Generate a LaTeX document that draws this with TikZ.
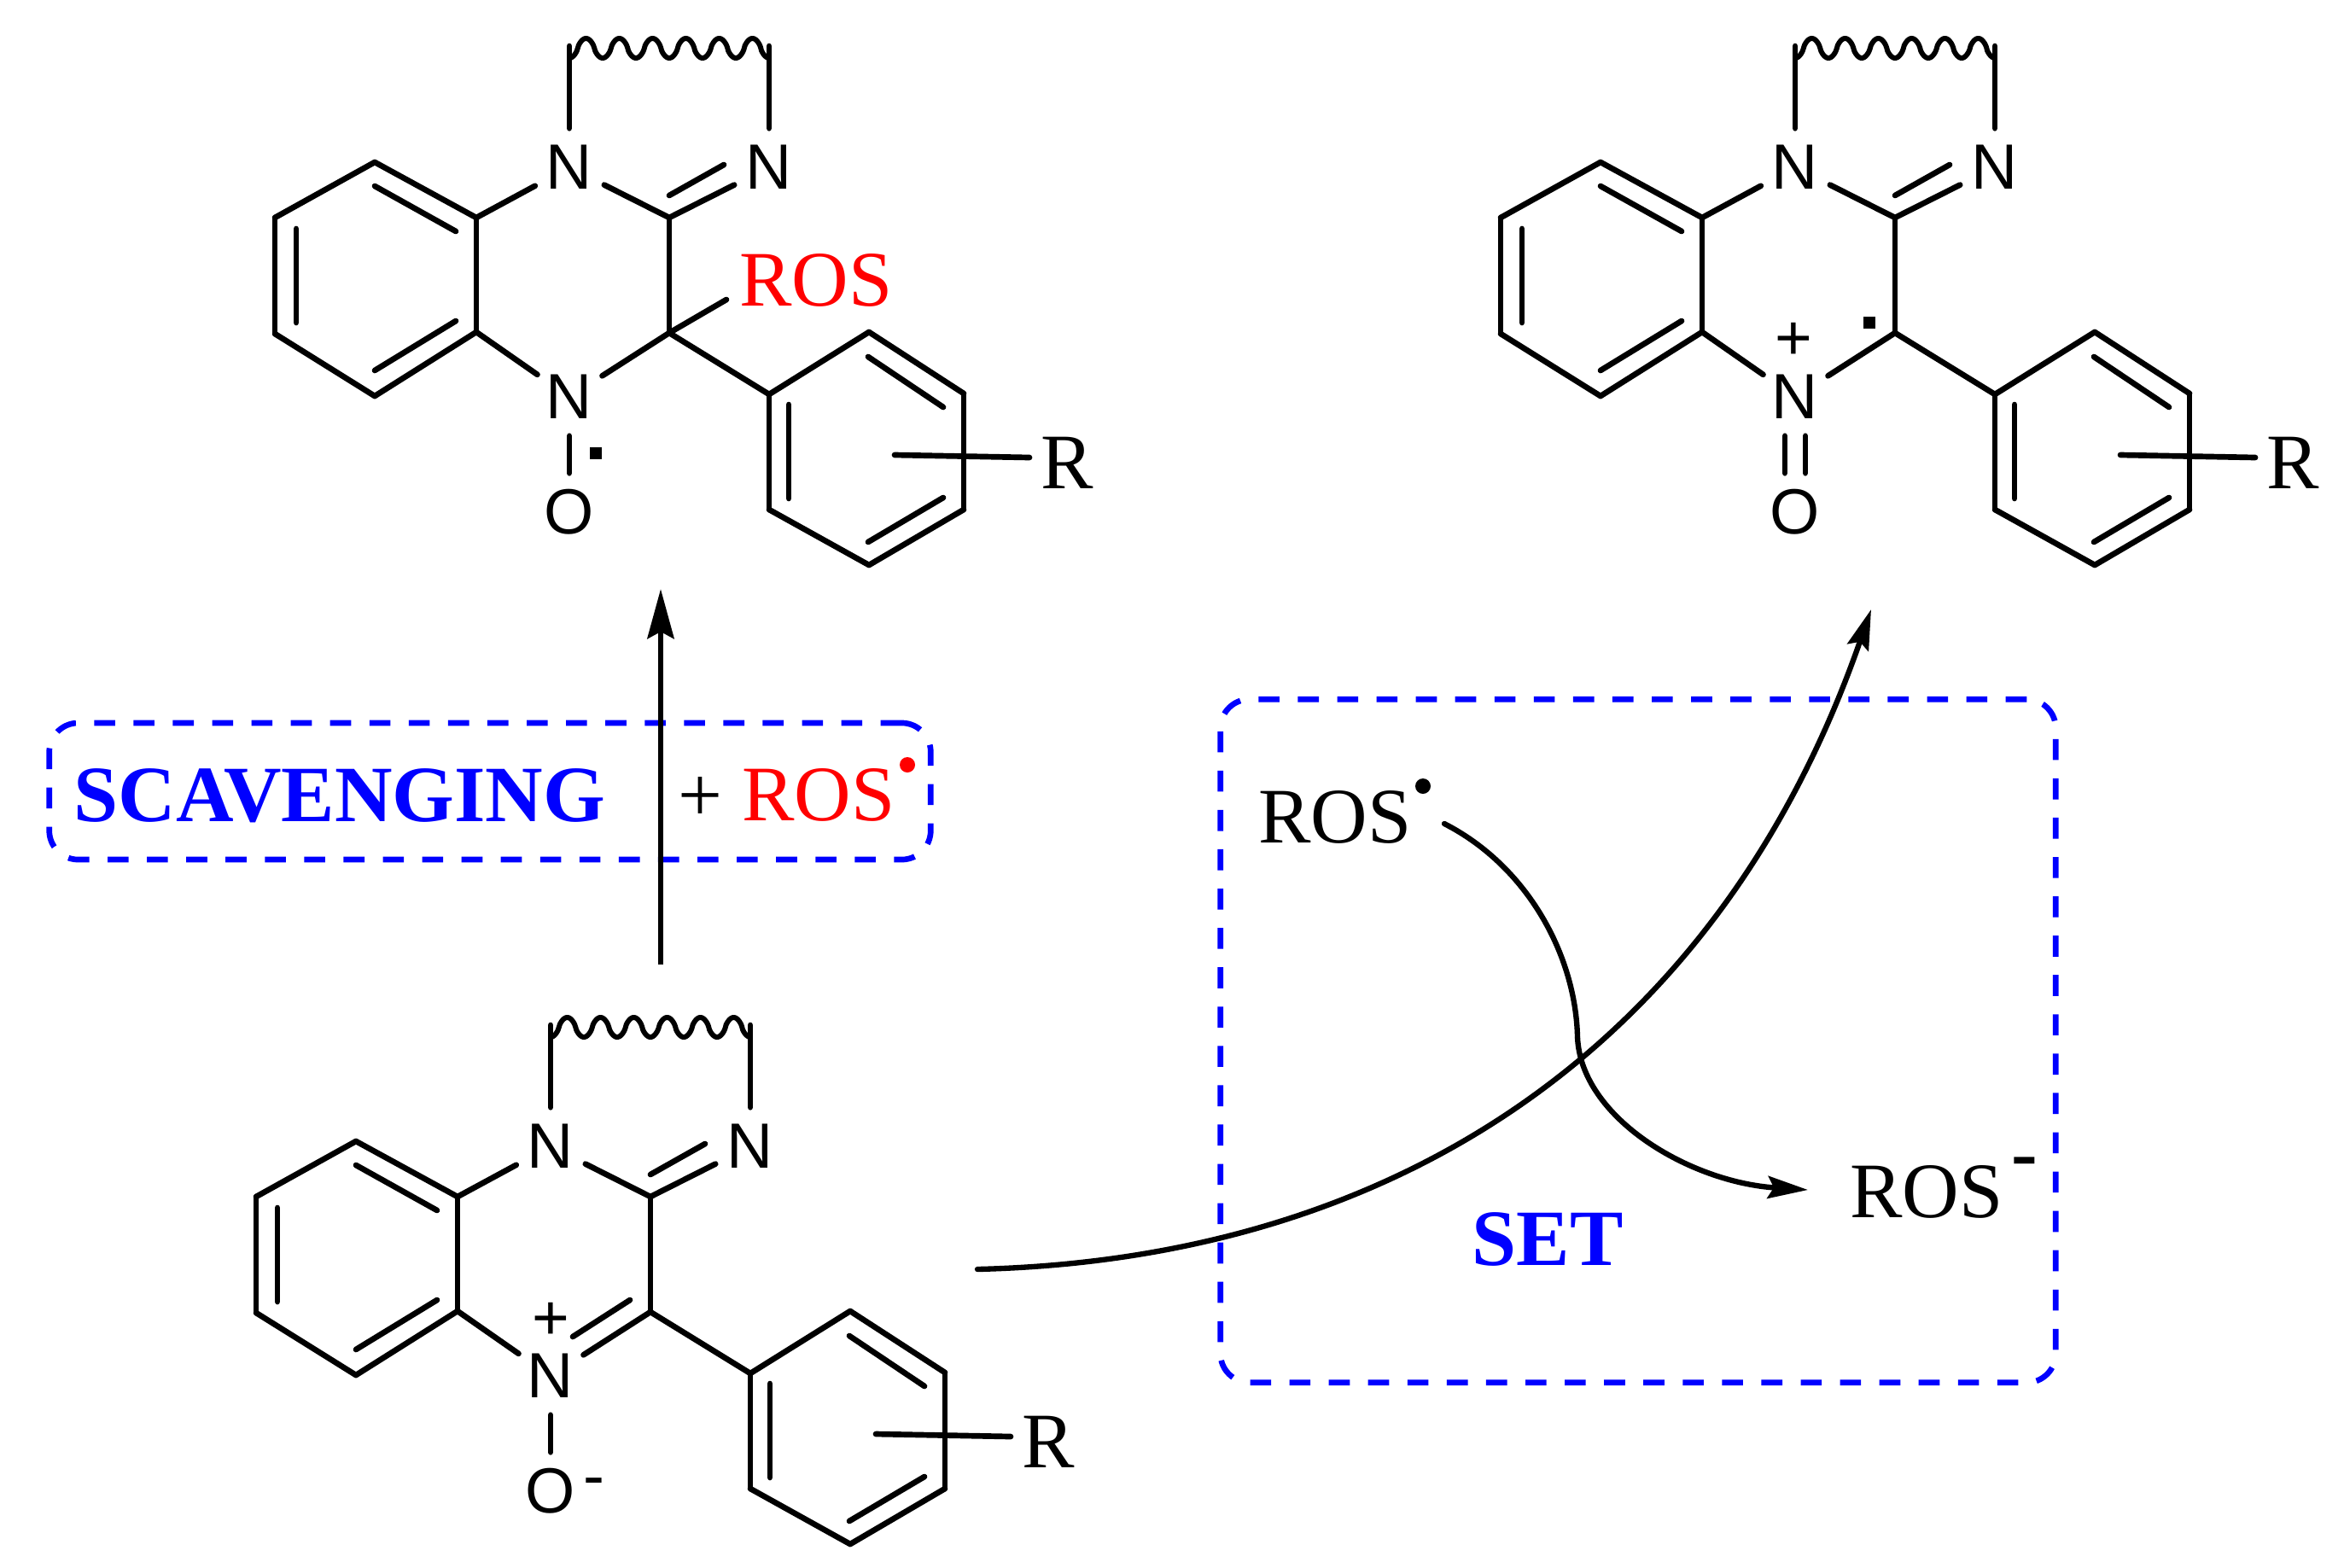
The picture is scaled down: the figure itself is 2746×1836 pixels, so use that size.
\documentclass[tikz,border=0pt]{standalone}
\usepackage{fontspec}
\usepackage{xcolor}
\usepackage{tikz}
\usetikzlibrary{arrows.meta}
\setmainfont{Liberation Serif}
\newfontfamily\atomfont{Liberation Sans}

\tikzset{
	bond/.style={line width=1.9pt,line cap=round},
	curved/.style={line width=1.8pt,line cap=round,-{Stealth[length=.47cm,width=.26cm,inset=.07cm]}},
	atom/.style={circle,inner sep=0pt,minimum size=.9cm,font=\atomfont\fontsize{21.3}{24}\selectfont},
	sign/.style={inner sep=0pt,font=\atomfont\fontsize{21.3}{24}\selectfont},
	group/.style={circle,inner sep=0pt,minimum size=.9cm,font=\fontsize{26.2}{30}\selectfont},
	word/.style={inner sep=0pt,font=\fontsize{26.2}{30}\selectfont},
	title/.style={inner sep=0pt,text=blue,font=\bfseries\fontsize{26.6}{30}\selectfont},
	radical/.style={fill,inner sep=0pt,minimum size=.14cm},
	spot/.style={circle,fill,inner sep=0pt,minimum size=.18cm},
	dashbox/.style={draw=blue,line width=1.9pt,rounded corners=.34cm,dash pattern=on 7pt off 6.1pt,inner sep=0pt},
}

% shared skeleton: both rings, the bridge, and the atoms with one fixed geometry
\newcommand{\skeleton}{
	\coordinate (ra) at ( 439, 190);
	\coordinate (rb) at ( 322, 255);
	\coordinate (rc) at ( 322, 391);
	\coordinate (rd) at ( 439, 464);
	\coordinate (re) at ( 558, 389);
	\coordinate (rf) at ( 558, 255);
	\coordinate (ca) at ( 784, 255);
	\coordinate (cb) at ( 784, 390);
	\coordinate (pa) at ( 901, 462);
	\coordinate (pb) at (1018, 389);
	\coordinate (pc) at (1129, 461);
	\coordinate (pd) at (1129, 597);
	\coordinate (pe) at (1018, 662);
	\coordinate (pf) at ( 901, 597);

	\node[atom] (na) at ( 667, 196) {N};
	\node[atom] (nb) at ( 901, 196) {N};
	\node[atom] (nc) at ( 667, 465) {N};
	\node[atom] (oa) at ( 667, 600) {O};
	\node[group] (rg) at (1250, 542) {R};

	\coordinate (ta) at ( 667,  54);
	\coordinate (tb) at ( 901,  54);
	\coordinate (sa) at (1048, 533);
	\coordinate (sb) at (1206, 536);

	\coordinate (ia) at ( 439, 218);
	\coordinate (ib) at ( 534, 271);
	\coordinate (ic) at ( 347, 268);
	\coordinate (id) at ( 347, 378);
	\coordinate (ie) at ( 439, 434);
	\coordinate (if) at ( 534, 376);
	\coordinate (ig) at ( 784, 229);
	\coordinate (ih) at ( 848, 193);
	\coordinate (ii) at (1017, 418);
	\coordinate (ij) at (1105, 477);
	\coordinate (ik) at ( 924, 474);
	\coordinate (il) at ( 924, 584);
	\coordinate (im) at (1105, 583);
	\coordinate (in) at (1017, 635);

	\foreach \s/\t in {ra/rb,rb/rc,rc/rd,rd/re,re/rf,rf/ra,rf/na,na/ca,ca/nb,ca/cb,re/nc,cb/nc,cb/pa,
		pa/pb,pb/pc,pc/pd,pd/pe,pe/pf,pf/pa,na/ta,nb/tb,sa/sb,
		ia/ib,ic/id,ie/if,ig/ih,ii/ij,ik/il,im/in}
		\draw[bond] (\s) -- (\t);

	% rounded humps, six of them
	\draw[bond,line width=1.7pt] plot[domain=0:1,samples=217] ({667+234*\x},{56.5+11.5*sign(cos(2160*\x))*pow(abs(cos(2160*\x)),.7)});
}

\begin{document}
\begin{tikzpicture}[x=.01cm,y=-.01cm]
	\useasboundingbox (0,0) rectangle (2746,1836);

	% upper left
	\begin{scope}[name prefix=u-]
		\skeleton
		\draw[bond] (nc) -- (oa);
		\coordinate (ro) at (851, 351);
		\draw[bond] (cb) -- (ro);
		\node[word,text=red] (rs) at (956, 328) {ROS};
		\node[radical] (dt) at (698, 531) {};
	\end{scope}

	% upper right
	\begin{scope}[shift={(1436,0)},name prefix=v-]
		\skeleton
		\draw[bond,transform canvas={xshift=-.12cm}] (nc) -- (oa);
		\draw[bond,transform canvas={xshift=.12cm}] (nc) -- (oa);
		\node[sign] (pl) at (665, 400) {+};
		\node[radical] (dt) at (754, 378) {};
	\end{scope}

	% lower left
	\begin{scope}[shift={(-22,1147)},name prefix=w-]
		\skeleton
		\draw[bond] (nc) -- (oa);
		\coordinate (io) at (760, 376);
		\coordinate (ip) at (693, 419);
		\draw[bond] (io) -- (ip);
		\node[sign] (pl) at (667, 401) {+};
		\node[sign] (mi) at (718, 596) {-};
	\end{scope}

	% scavenging route
	\node[dashbox,minimum width=10.32cm,minimum height=1.6cm] (scavbox) at (574, 927) {};
	\node[title] (scav) at (398, 932) {SCAVENGING};
	\node[word] (plus) at (820, 936) {+};
	\node[word,text=red] (rosa) at (959, 931) {ROS};
	\node[spot,red] (dota) at (1063, 896) {};
	\coordinate (up) at (774, 1130);
	\coordinate (uq) at (774, 690);
	\draw[bond,line cap=butt,-{Stealth[length=.58cm,width=.31cm,inset=.08cm]}] (up) -- (uq);

	% electron transfer route
	\node[dashbox,minimum width=9.78cm,minimum height=8cm] (setbox) at (1919, 1219.5) {};
	\node[title] (set) at (1813, 1452) {SET};
	\node[word] (rosb) at (1564, 957) {ROS};
	\node[spot] (dotb) at (1667, 921) {};
	\node[word] (rosc) at (2257, 1396) {ROS};
	\node[word,font=\bfseries\fontsize{26.2}{30}\selectfont] (minb) at (2372, 1369) {-};

	\coordinate (lb) at (1145, 1487);
	\coordinate (lc) at (2192, 714);
	\draw[curved] (lb) .. controls (1640, 1475) and (2015, 1222) .. (lc);

	\coordinate (ma) at (1692, 965);
	\coordinate (mb) at (1848, 1215);
	\coordinate (mc) at (2118, 1394);
	\draw[bond,line width=1.8pt] (ma) .. controls (1790, 1015) and (1846, 1120) .. (mb);
	\draw[curved] (mb) .. controls (1852, 1310) and (1980, 1385) .. (mc);
\end{tikzpicture}
\end{document}
